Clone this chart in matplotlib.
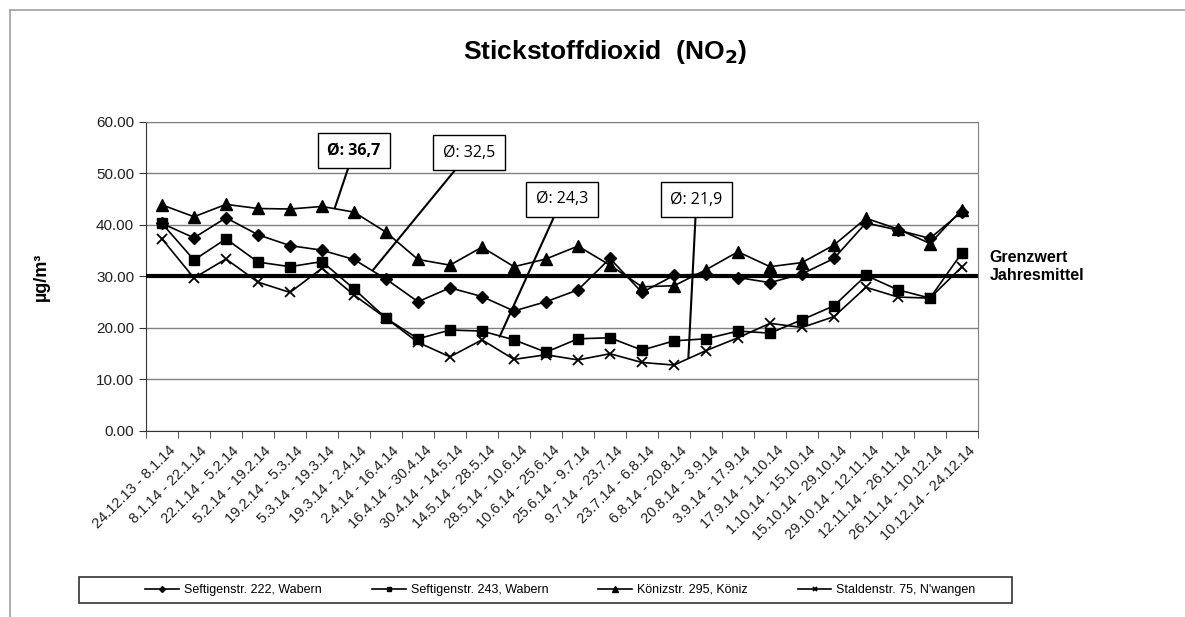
import matplotlib
matplotlib.use('Agg')
import matplotlib.pyplot as plt
import matplotlib.transforms as mtransforms
from matplotlib.lines import Line2D
from matplotlib.patches import Rectangle
import numpy as np

plt.rcParams['font.family'] = ['Liberation Sans', 'DejaVu Sans']

# Messperioden 2014
perioden = ['24.12.13 - 8.1.14', '8.1.14 - 22.1.14', '22.1.14 - 5.2.14', '5.2.14 - 19.2.14',
            '19.2.14 - 5.3.14', '5.3.14 - 19.3.14', '19.3.14 - 2.4.14', '2.4.14 - 16.4.14',
            '16.4.14 - 30.4.14', '30.4.14 - 14.5.14', '14.5.14 - 28.5.14', '28.5.14 - 10.6.14',
            '10.6.14 - 25.6.14', '25.6.14 - 9.7.14', '9.7.14 - 23.7.14', '23.7.14 - 6.8.14',
            '6.8.14 - 20.8.14', '20.8.14 - 3.9.14', '3.9.14 - 17.9.14', '17.9.14 - 1.10.14',
            '1.10.14 - 15.10.14', '15.10.14 - 29.10.14', '29.10.14 - 12.11.14',
            '12.11.14 - 26.11.14', '26.11.14 - 10.12.14', '10.12.14 - 24.12.14']

seftigen222 = [40.3, 37.5, 41.4, 38.1, 36.0, 35.1, 33.3, 29.5, 25.1, 27.8, 26.1, 23.3, 25.1,
               27.4, 33.5, 26.9, 30.2, 30.5, 29.8, 28.8, 30.5, 33.5, 40.4, 39.0, 37.4, 42.6]
seftigen243 = [40.3, 33.2, 37.3, 32.8, 31.9, 32.9, 27.6, 21.9, 17.9, 19.6, 19.4, 17.7, 15.3,
               17.9, 18.1, 15.7, 17.5, 17.9, 19.4, 19.0, 21.6, 24.3, 30.2, 27.4, 25.8, 34.6]
koeniz295 = [43.9, 41.6, 44.0, 43.2, 43.1, 43.6, 42.5, 38.6, 33.3, 32.2, 35.7, 31.9, 33.4,
             35.9, 32.2, 28.0, 28.2, 31.3, 34.8, 31.9, 32.7, 36.1, 41.3, 39.2, 36.4, 43.0]
stalden75 = [37.3, 29.7, 33.4, 28.9, 26.9, 31.6, 26.4, 21.9, 17.2, 14.4, 17.7, 13.9, 14.8,
             13.8, 15.0, 13.3, 12.8, 15.6, 18.1, 20.9, 20.1, 22.2, 27.9, 26.0, 25.8, 31.9]

grenzwert = 30

# Mittelwerte: Text, Position Box, Position Linienende
mittel_text = ['Ø: 36,7', 'Ø: 32,5', 'Ø: 24,3', 'Ø: 21,9']
mittel_box = [(6.0, 54.4), (9.6, 54.0), (12.5, 45.0), (16.7, 44.9)]
mittel_ziel = [(5.4, 43.3), (6.6, 31.3), (10.55, 18.3), (16.45, 14.2)]

fig = plt.figure(figsize=(11.85, 6.17), dpi=100)
ax = fig.add_axes([0.1232, 0.3015, 0.7021, 0.5008])

x = np.arange(len(perioden))
ax.plot(x, seftigen222, 'k-', marker='D', markersize=6, lw=1.2, label='Seftigenstr. 222, Wabern')
ax.plot(x, seftigen243, 'k-', marker='s', markersize=7, lw=1.2, label='Seftigenstr. 243, Wabern')
ax.plot(x, koeniz295, 'k-', marker='^', markersize=8, lw=1.2, label='Könizstr. 295, Köniz')
ax.plot(x, stalden75, 'k-', marker='x', markersize=7, mew=1.3, lw=1.2, label="Staldenstr. 75, N'wangen")

ax.axhline(grenzwert, color='black', lw=3, zorder=3)

ax.set_xlim(-0.5, len(perioden) - 0.5)
ax.set_ylim(0, 60)
ax.set_yticks(np.arange(0, 61, 10))
ax.set_yticklabels(['%.2f' % v for v in np.arange(0, 61, 10)], fontsize=11, color='#222222')
ax.yaxis.grid(True, color='#808080', lw=1)
ax.set_axisbelow(True)

ax.set_xticks(x)
ax.set_xticklabels(perioden, rotation=45, ha='right', va='top', rotation_mode='anchor',
                   fontsize=10.5, color='#222222')
ax.set_xticks(np.arange(-0.5, len(perioden), 1), minor=True)
ax.tick_params(axis='x', which='major', length=0, pad=9)
ax.tick_params(axis='x', which='minor', length=5, color='#333333')
ax.tick_params(axis='y', length=5, color='#333333')
verschieb = mtransforms.ScaledTranslation(0.06, 0, fig.dpi_scale_trans)
for lab in ax.get_xticklabels():
    lab.set_transform(lab.get_transform() + verschieb)

for s in ['left', 'bottom']:
    ax.spines[s].set_color('#333333')
for s in ['top', 'right']:
    ax.spines[s].set_color('#808080')

ax.set_ylabel('µg/m³', fontsize=13, fontweight='bold', labelpad=33)

for i, (txt, bpos, zpos) in enumerate(zip(mittel_text, mittel_box, mittel_ziel)):
    ax.annotate(txt, xy=zpos, xytext=bpos, ha='center', va='center', fontsize=11.5,
                family=['Open Sans', 'DejaVu Sans'], fontweight='bold' if i == 0 else 'normal',
                bbox=dict(boxstyle='square,pad=0.6', fc='white', ec='black', lw=1),
                arrowprops=dict(arrowstyle='-', color='black', lw=1.5, shrinkA=0, shrinkB=0),
                zorder=5)

fig.text(0.511, 0.916, 'Stickstoffdioxid  (NO$_\\mathbf{2}$)', ha='center', va='center',
         fontsize=19, fontweight='bold')
fig.text(0.835, 0.568, 'Grenzwert\nJahresmittel', ha='left', va='center', fontsize=11.5,
         fontweight='bold', linespacing=1.3)

fig.legend(loc='center', bbox_to_anchor=(0.473, 0.0438), ncol=4, frameon=False, fontsize=9,
           markerscale=0.5, handlelength=2.7, handletextpad=0.4, columnspacing=4.0)
fig.patches.append(Rectangle((79 / 1185, 1 - 603 / 617), (1012 - 79) / 1185, 26 / 617,
                             transform=fig.transFigure, fill=False, ec='#333333', lw=1.2))

# Rahmen links und oben
fig.add_artist(Line2D([10 / 1185, 10 / 1185], [0, 1 - 10 / 617], color='#a0a0a0', lw=1.2))
fig.add_artist(Line2D([10 / 1185, 1], [1 - 10 / 617, 1 - 10 / 617], color='#a0a0a0', lw=1.2))

fig.savefig('out.png', dpi=100)
